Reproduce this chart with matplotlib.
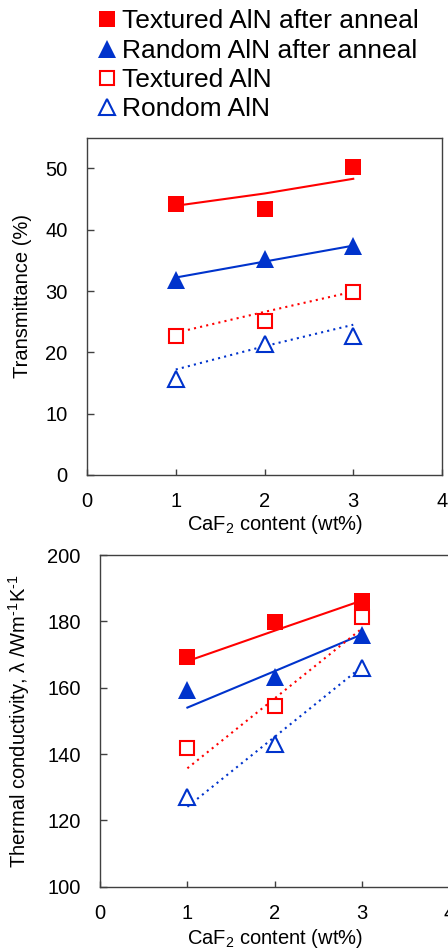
import matplotlib
matplotlib.use("Agg")
import matplotlib.pyplot as plt

plt.rcParams['font.family'] = ['Liberation Sans', 'DejaVu Sans']
plt.rcParams['mathtext.fontset'] = 'custom'
plt.rcParams['mathtext.rm'] = 'Liberation Sans'
plt.rcParams['mathtext.it'] = 'Liberation Sans:italic'

# ---------------- data ----------------
caf2 = [1, 2, 3]

# Transmittance (%)
trans_textured_anneal = [44.2, 43.4, 50.3]
trans_random_anneal = [31.8, 35.2, 37.3]
trans_textured = [22.7, 25.1, 29.9]
trans_random = [15.7, 21.4, 22.7]
# trend lines
trans_fit_textured_anneal = [43.9, 45.9, 48.3]
trans_fit_random_anneal = [32.2, 34.8, 37.4]
trans_fit_textured = [23.2, 26.6, 29.9]
trans_fit_random = [17.2, 21.0, 24.5]

# Thermal conductivity (W/mK)
tc_textured_anneal = [169.4, 179.8, 186.2]
tc_random_anneal = [159.3, 163.3, 176.0]
tc_textured = [141.9, 154.6, 181.4]
tc_random = [127.1, 143.0, 165.8]
tc_fit_textured_anneal = [168.0, 177.2, 186.3]
tc_fit_random_anneal = [154.0, 165.0, 176.1]
tc_fit_textured = [135.7, 156.8, 177.9]
tc_fit_random = [124.1, 145.2, 166.4]

labels = ["Textured AlN after anneal", "Random AlN after anneal",
          "Textured AlN", "Rondom AlN"]
xticks = [0, 1, 2, 3, 4]
top_yticks = [0, 10, 20, 30, 40, 50]
bot_yticks = [100, 120, 140, 160, 180, 200]

RED = '#FF0000'
BLUE = '#0033CC'
SPINE = '#404040'
FS = 14.5

fig = plt.figure(figsize=(4.48, 9.52), dpi=100)
W, H = 448, 952
ax1 = fig.add_axes([87 / W, 1 - 475 / H, 355 / W, 337.3 / H])
ax2 = fig.add_axes([100 / W, 1 - 886.7 / H, 349.6 / W, 331.7 / H])


def styles():
    return [
        dict(marker='s', color=RED, ms=11.5, mew=0, mfc=RED),
        dict(marker='^', color=BLUE, ms=13, mew=0, mfc=BLUE),
        dict(marker='s', color=RED, ms=10.5, mew=1.5, mfc='white', mec=RED),
        dict(marker='^', color=BLUE, ms=12, mew=1.5, mfc='white', mec=BLUE),
    ]


def draw(ax, series, fits):
    st = styles()
    lss = ['-', '-', (0, (1, 2)), (0, (1, 2))]
    cols = [RED, BLUE, RED, BLUE]
    handles = []
    for s, f, sty, ls, c in zip(series, fits, st, lss, cols):
        ax.plot(caf2, f, color=c, lw=1.5, ls=ls, zorder=2)
        h, = ax.plot(caf2, s, ls='none', zorder=3, **sty)
        handles.append(h)
    ax.set_xlim(0, 4)
    ax.set_xticks(xticks)
    for sp in ax.spines.values():
        sp.set_color(SPINE)
        sp.set_linewidth(1.0)
    ax.tick_params(axis='both', direction='in', color=SPINE, labelsize=FS,
                   width=1.0)
    ax.tick_params(axis='x', length=4, pad=12.5)
    ax.tick_params(axis='y', length=5, pad=14)
    ax.set_xlabel("CaF$_2$ content (wt%)", fontsize=FS)
    return handles


handles = draw(ax1, [trans_textured_anneal, trans_random_anneal, trans_textured, trans_random],
               [trans_fit_textured_anneal, trans_fit_random_anneal, trans_fit_textured, trans_fit_random])
ax1.set_ylim(0, 55)
ax1.set_yticks(top_yticks)
ax1.set_ylabel("Transmittance (%)", fontsize=FS)
ax1.yaxis.set_label_coords((23 - 87) / 355, (475 - 296.5) / 337.3)
ax1.yaxis.label.set_va('center')
ax1.xaxis.set_label_coords((275 - 87) / 355, (475 - 524) / 337.3)
ax1.xaxis.label.set_va('center')

draw(ax2, [tc_textured_anneal, tc_random_anneal, tc_textured, tc_random],
     [tc_fit_textured_anneal, tc_fit_random_anneal, tc_fit_textured, tc_fit_random])
ax2.set_ylim(100, 200)
ax2.set_yticks(bot_yticks)
ax2.set_ylabel("Thermal conductivity, λ /Wm$^{\\text{-1}}$K$^{\\text{-1}}$", fontsize=FS)
ax2.yaxis.set_label_coords((19 - 100) / 349.6, 0.5)
ax2.yaxis.label.set_va('center')
ax2.xaxis.set_label_coords(0.5, (886.7 - 938) / 331.7)
ax2.xaxis.label.set_va('center')

leg = fig.legend(handles, labels, loc='upper left',
                 bbox_to_anchor=(97.8 / W, 1 - 9.5 / H), bbox_transform=fig.transFigure,
                 frameon=False, fontsize=19, handlelength=0.7, handletextpad=0.2,
                 labelspacing=0.2, borderpad=0, borderaxespad=0, numpoints=1)

fig.savefig("out.png", dpi=100)
